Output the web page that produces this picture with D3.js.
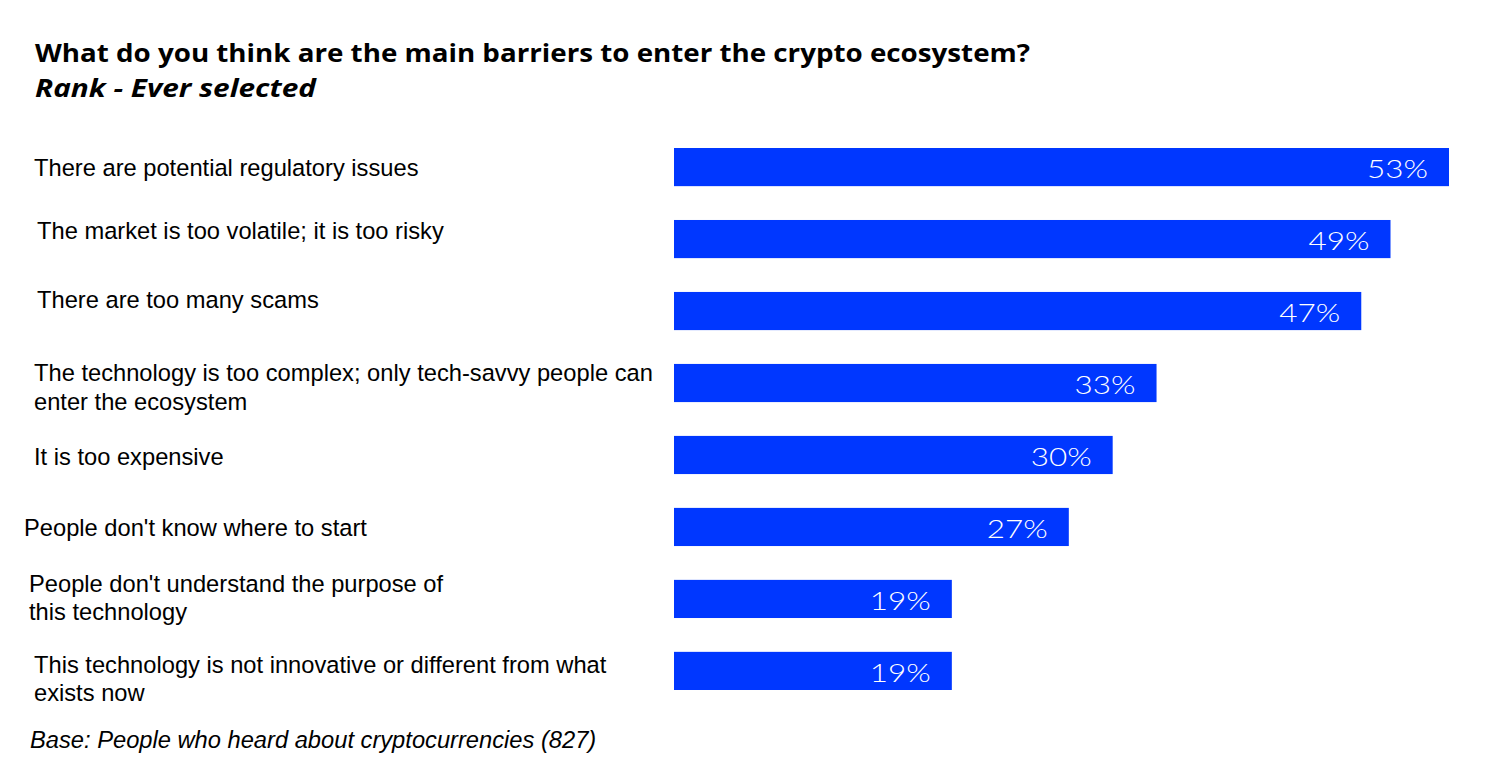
<!DOCTYPE html>
<html>
<head>
<meta charset="utf-8">
<script src="https://cdn.jsdelivr.net/npm/d3@7"></script>
<style>
  html, body { margin: 0; padding: 0; background: #fff; }
  svg { display: block; }
</style>
</head>
<body>
<svg id="chart" width="1502" height="769"></svg>
<script>
// ---- Data ----
const categories = [
  ["There are potential regulatory issues"],
  ["The market is too volatile; it is too risky"],
  ["There are too many scams"],
  ["The technology is too complex; only tech-savvy people can", "enter the ecosystem"],
  ["It is too expensive"],
  ["People don't know where to start"],
  ["People don't understand the purpose of", "this technology"],
  ["This technology is not innovative or different from what", "exists now"]
];
const values = [53, 49, 47, 33, 30, 27, 19, 19];
const valueLabels = ["53%", "49%", "47%", "33%", "30%", "27%", "19%", "19%"];
const titleText = "What do you think are the main barriers to enter the crypto ecosystem?";
const subtitleText = "Rank - Ever selected";
const footnoteText = "Base: People who heard about cryptocurrencies (827)";

// ---- Layout (not data) ----
const labelDx = [34, 37, 37, 34, 34, 24, 29, 34];
const labelDy = [1, -8, -11, 4, 2, 1, -1, 8];

const svg = d3.select("#chart");
const barColor = "#0037ff";

const x = d3.scaleLinear().domain([0, 53]).range([674, 1449]);
const y = d3.scaleBand().domain(d3.range(values.length)).range([148, 690]).paddingInner(0.47).paddingOuter(0);

svg.append("text")
  .attr("x", 35).attr("y", 62)
  .attr("font-family", "'Open Sans', Roboto, sans-serif")
  .attr("font-weight", 700)
  .attr("font-size", 25)
  .attr("textLength", 995)
  .attr("lengthAdjust", "spacingAndGlyphs")
  .attr("fill", "#000")
  .text(titleText);

svg.append("text")
  .attr("x", 35).attr("y", 97)
  .attr("font-family", "'Open Sans', Roboto, sans-serif")
  .attr("font-weight", 700)
  .attr("font-style", "italic")
  .attr("font-size", 25)
  .attr("textLength", 281)
  .attr("lengthAdjust", "spacingAndGlyphs")
  .attr("fill", "#000")
  .text(subtitleText);

const g = svg.append("g");

g.selectAll("rect.bar")
  .data(values)
  .join("rect")
  .attr("class", "bar")
  .attr("x", x(0))
  .attr("y", (d, i) => y(i))
  .attr("width", d => x(d) - x(0))
  .attr("height", y.bandwidth())
  .attr("fill", barColor);

g.selectAll("text.val")
  .data(values)
  .join("text")
  .attr("class", "val")
  .attr("x", d => x(d) - 21)
  .attr("y", (d, i) => y(i) + y.bandwidth() / 2 + 2)
  .attr("dy", "0.35em")
  .attr("text-anchor", "end")
  .attr("font-family", "Lato, 'Open Sans', sans-serif")
  .attr("font-weight", 300)
  .attr("font-size", 26)
  .attr("textLength", 61)
  .attr("lengthAdjust", "spacingAndGlyphs")
  .attr("fill", "#fff")
  .text((d, i) => valueLabels[i]);

const lineH = 28.5;
g.selectAll("text.cat")
  .data(categories)
  .join("text")
  .attr("class", "cat")
  .attr("font-family", "'Liberation Sans', Arial, sans-serif")
  .attr("font-size", 23.7)
  .attr("fill", "#000")
  .each(function(lines, i) {
    const cy = y(i) + y.bandwidth() / 2 + labelDy[i];
    const top = cy - (lines.length - 1) * lineH / 2;
    d3.select(this).selectAll("tspan")
      .data(lines)
      .join("tspan")
      .attr("x", labelDx[i])
      .attr("y", (l, k) => top + k * lineH)
      .attr("dy", "0.35em")
      .text(l => l);
  });

svg.append("text")
  .attr("x", 30).attr("y", 748)
  .attr("font-family", "'Liberation Sans', Arial, sans-serif")
  .attr("font-style", "italic")
  .attr("font-size", 23.7)
  .attr("fill", "#000")
  .text(footnoteText);
</script>
</body>
</html>
